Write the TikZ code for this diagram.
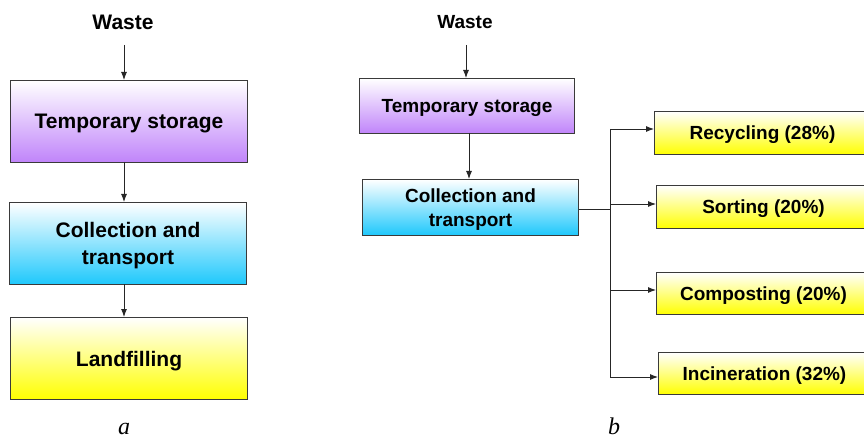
\documentclass[tikz,border=0pt]{standalone}
\usepackage{fontspec}
\setmainfont{Liberation Sans}
\newfontfamily\captionfont{Liberation Serif}
\usetikzlibrary{arrows.meta,calc}
\definecolor{lilac}{HTML}{C084FA}
\definecolor{skyblue}{HTML}{1EC8FC}
\definecolor{lemon}{HTML}{FFFF00}
\definecolor{edgegray}{HTML}{3A3A3A}
\tikzset{
  box/.style={draw=edgegray, line width=1pt, shading=axis, top color=white,
    anchor=north west, inner sep=0pt, align=center, text depth=0pt},
  purplebox/.style={box, bottom color=lilac},
  bluebox/.style={box, bottom color=skyblue},
  yellowbox/.style={box, bottom color=lemon},
  flow/.style={draw=black!85, line width=0.9pt, -{Latex[length=8pt,width=6pt]}},
  link/.style={draw=black!85, line width=0.9pt},
  bigtxt/.style={font=\fontsize{21}{27}\selectfont\bfseries},
  smalltxt/.style={font=\fontsize{19}{24}\selectfont\bfseries},
  caption/.style={font=\fontsize{24}{28}\selectfont\captionfont\itshape}
}
\begin{document}
\begin{tikzpicture}[x=1pt,y=-1pt]
\useasboundingbox (0,0) rectangle (864,438);

% ---- scheme a ----
\node[bigtxt] (wa) at (123,22) {Waste};
\node[purplebox, bigtxt, minimum width=237pt, minimum height=82pt] (tsa) at (10,80) {Temporary storage};
\node[bluebox, bigtxt, minimum width=237pt, minimum height=82pt] (cta) at (9,202) {Collection and\\transport};
\node[yellowbox, bigtxt, minimum width=237pt, minimum height=82pt] (lfa) at (10,317) {Landfilling};
\node[caption, anchor=base] (capa) at (124,434) {a};

\draw[flow] (124,45) coordinate (wa0) -- (wa0 |- tsa.north);
\draw[flow] (124,162) coordinate (tsa0) -- (tsa0 |- cta.north);
\draw[flow] (124,284) coordinate (cta0) -- (cta0 |- lfa.north);

% ---- scheme b ----
\node[smalltxt] (wb) at (465,22) {Waste};
\node[purplebox, smalltxt, minimum width=215pt, minimum height=55pt] (tsb) at (359,78) {Temporary storage};
\node[bluebox, smalltxt, minimum width=216pt, minimum height=56pt] (ctb) at (362,179) {Collection and\\transport};
\node[caption, anchor=base] (capb) at (614,434) {b};

\node[yellowbox, smalltxt, minimum width=216pt, minimum height=43pt] (rec) at (654,111) {Recycling (28\%)};
\node[yellowbox, smalltxt, minimum width=214pt, minimum height=43pt] (sor) at (656,185) {Sorting (20\%)};
\node[yellowbox, smalltxt, minimum width=214pt, minimum height=42pt] (com) at (656,272) {Composting (20\%)};
\node[yellowbox, smalltxt, minimum width=212pt, minimum height=42pt] (inc) at (658,352) {Incineration (32\%)};

\draw[flow] (466,45) coordinate (wb0) -- (wb0 |- tsb.north);
\draw[flow] (469,133) coordinate (tsb0) -- (tsb0 |- ctb.north);

\coordinate (split) at (610,209);
\coordinate (top) at (610,129);
\coordinate (bot) at (610,377);
\draw[link] (ctb.east |- split) -- (split);
\draw[link] (top) -- (bot);
\draw[flow] (top) -- (top -| rec.west);
\draw[flow] (610,204) coordinate (s2) -- (s2 -| sor.west);
\draw[flow] (610,290) coordinate (s3) -- (s3 -| com.west);
\draw[flow] (bot) -- (bot -| inc.west);
\end{tikzpicture}
\end{document}
